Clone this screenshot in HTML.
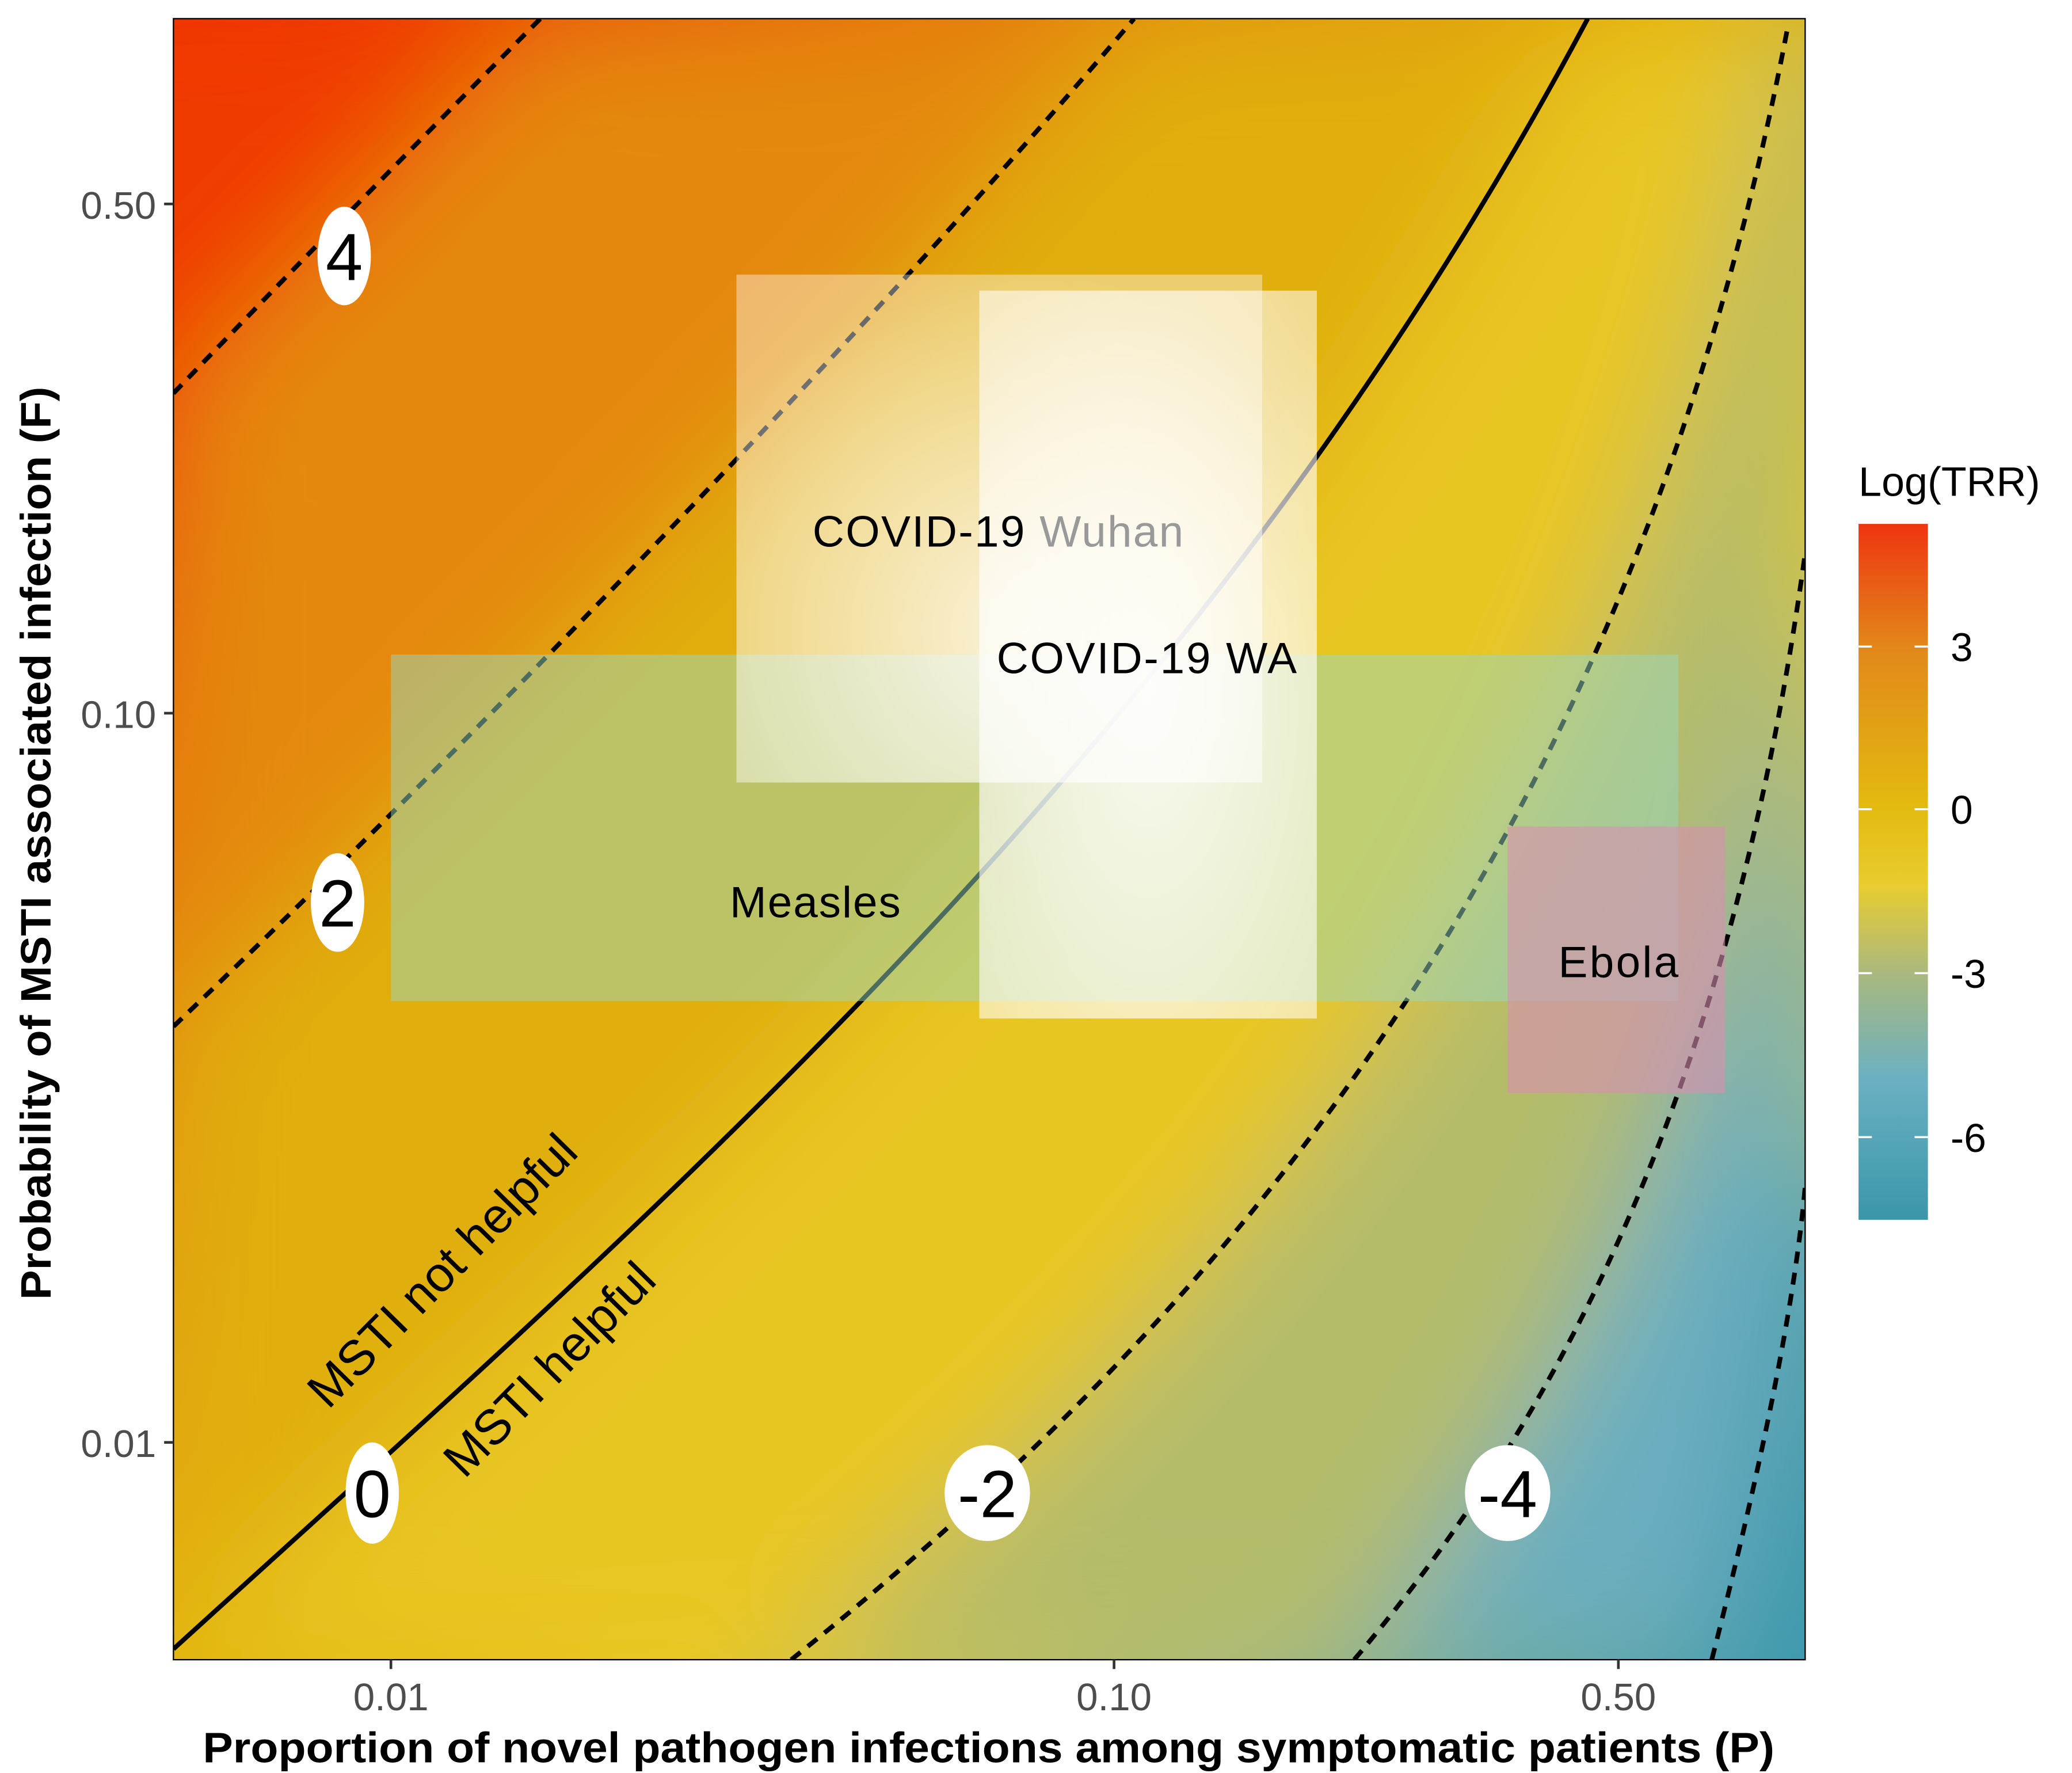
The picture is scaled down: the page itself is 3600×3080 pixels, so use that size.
<!DOCTYPE html>
<html><head><meta charset="utf-8"><style>
html,body{margin:0;padding:0;background:#fff;}
svg{display:block;}
text{font-family:"Liberation Sans",sans-serif;}
</style></head><body>
<svg width="3600" height="3080" viewBox="0 0 1553 1330" preserveAspectRatio="none" xmlns="http://www.w3.org/2000/svg">
<defs>
<clipPath id="pc"><rect x="130" y="14" width="1223" height="1231"/></clipPath>
<filter id="bl" x="-20%" y="-20%" width="140%" height="140%"><feGaussianBlur stdDeviation="45"/></filter>
<linearGradient id="base" x1="0" y1="0" x2="1" y2="1">
<stop offset="0" stop-color="#f02a00"/><stop offset="0.3" stop-color="#e38a05"/><stop offset="0.5" stop-color="#e2b30a"/><stop offset="0.65" stop-color="#e8c828"/><stop offset="0.82" stop-color="#a8ba80"/><stop offset="1" stop-color="#3a98ae"/>
</linearGradient>
<radialGradient id="wu" cx="0.55" cy="0.7" r="0.7"><stop offset="0" stop-color="#fff" stop-opacity="0.85"/><stop offset="1" stop-color="#fff" stop-opacity="0.4"/></radialGradient>
<radialGradient id="wa" cx="0.5" cy="0.55" r="0.7"><stop offset="0" stop-color="#fff" stop-opacity="0.9"/><stop offset="1" stop-color="#fff" stop-opacity="0.55"/></radialGradient>
<linearGradient id="leg" x1="0" y1="0" x2="0" y2="1">
<stop offset="0" stop-color="#ee3510"/><stop offset="0.18" stop-color="#e2881a"/><stop offset="0.41" stop-color="#e3bb10"/><stop offset="0.52" stop-color="#e8cc30"/><stop offset="0.65" stop-color="#a8b880"/><stop offset="0.8" stop-color="#6ab0c2"/><stop offset="1" stop-color="#3a96aa"/>
</linearGradient>
</defs>
<g clip-path="url(#pc)">
<rect x="130" y="14" width="1223" height="1231" fill="url(#base)"/>
<g filter="url(#bl)">
<path d="M0,0 L500,0 L130,380 L0,420Z" fill="#f03a05"/>
<path d="M405,14 L850,14 C650,250 350,560 130,770 L130,295Z" fill="#e4880a"/>
<path d="M850,14 L1190,14 C900,560 500,900 130,1237 L130,770 C350,560 650,250 850,14Z" fill="#e0ae08"/>
<path d="M1190,14 L1340,14 C1220,650 900,1000 593,1245 L130,1245 L130,1237 C500,900 900,560 1190,14Z" fill="#e8c622"/>
<path d="M1340,14 L1400,0 L1353,415 C1300,800 1180,1050 1015,1245 L593,1245 C900,1000 1220,650 1340,20Z" fill="#b4bc6a"/>
<path d="M1353,415 L1353,890 C1345,980 1320,1100 1283,1245 L1015,1245 C1180,1050 1300,800 1353,415Z" fill="#6aaebf"/>
<path d="M1353,890 L1400,900 L1400,1300 L1283,1245 C1320,1100 1345,980 1353,890Z" fill="#3c98ad"/>
</g>
<g fill="none" stroke="#000" stroke-width="3.5">
<path d="M130,295 Q260,160 405,14" stroke-dasharray="9,7"/>
<path d="M130,770 C350,560 650,250 850,14" stroke-dasharray="9,7"/>
<path d="M130,1237 C500,900 900,560 1190,14"/>
<path d="M593,1245 C900,1000 1220,650 1340,20" stroke-dasharray="9,7"/>
<path d="M1015,1245 C1180,1050 1300,800 1353,415" stroke-dasharray="9,7"/>
<path d="M1283,1245 C1320,1100 1345,980 1353,890" stroke-dasharray="9,7"/>
</g>
<rect x="293" y="491" width="965" height="260" fill="#98d8c0" fill-opacity="0.5"/>
<rect x="552" y="206" width="394" height="381" fill="url(#wu)"/>
<rect x="734" y="218" width="253" height="546" fill="url(#wa)"/>
<rect x="1130" y="620" width="163" height="200" fill="#d890b0" fill-opacity="0.6"/>
<text x="609" y="410" font-size="33" textLength="278" fill="#000">COVID-19 <tspan fill="#999">Wuhan</tspan></text>
<text x="747" y="505" font-size="33" textLength="225" fill="#000">COVID-19 WA</text>
<text x="547" y="688" font-size="33" textLength="128" fill="#000">Measles</text>
<text x="1168" y="733" font-size="33" textLength="90" fill="#000">Ebola</text>
<text x="0" y="0" font-size="37" fill="#000" transform="translate(246,1058) rotate(-45.5)">MSTI not helpful</text>
<text x="0" y="0" font-size="37" fill="#000" transform="translate(348,1110) rotate(-45.5)">MSTI helpful</text>
<g fill="#fff">
<ellipse cx="258" cy="192" rx="20" ry="37"/>
<ellipse cx="253" cy="677" rx="20" ry="37"/>
<ellipse cx="279" cy="1120" rx="20" ry="38"/>
<ellipse cx="740" cy="1120" rx="32" ry="36"/>
<ellipse cx="1130" cy="1120" rx="32" ry="36"/>
</g>
<g font-size="50" fill="#000" text-anchor="middle">
<text x="258" y="210">4</text>
<text x="253" y="695">2</text>
<text x="279" y="1138">0</text>
<text x="740" y="1138">-2</text>
<text x="1130" y="1138">-4</text>
</g>
</g>
<rect x="130" y="14" width="1223" height="1231" fill="none" stroke="#000" stroke-width="1"/>
<g stroke="#333" stroke-width="2">
<line x1="123" y1="153" x2="130" y2="153"/><line x1="123" y1="535" x2="130" y2="535"/><line x1="123" y1="1082" x2="130" y2="1082"/>
<line x1="293" y1="1245" x2="293" y2="1252"/><line x1="835" y1="1245" x2="835" y2="1252"/><line x1="1213" y1="1245" x2="1213" y2="1252"/>
</g>
<g font-size="29" fill="#4d4d4d">
<text x="117" y="164" text-anchor="end">0.50</text>
<text x="117" y="546" text-anchor="end">0.10</text>
<text x="117" y="1093" text-anchor="end">0.01</text>
<text x="293" y="1283" text-anchor="middle">0.01</text>
<text x="835" y="1283" text-anchor="middle">0.10</text>
<text x="1213" y="1283" text-anchor="middle">0.50</text>
</g>
<text x="152" y="1322" font-size="32" font-weight="bold" textLength="1178" lengthAdjust="spacingAndGlyphs">Proportion of novel pathogen infections among symptomatic patients (P)</text>
<text x="0" y="0" font-size="32" font-weight="bold" textLength="685" lengthAdjust="spacingAndGlyphs" transform="translate(38,975) rotate(-90)">Probability of MSTI associated infection (F)</text>
<text x="1393" y="372" font-size="31">Log(TRR)</text>
<rect x="1393" y="393" width="52" height="522" fill="url(#leg)"/>
<g stroke="#fff" stroke-width="1.5">
<line x1="1393" y1="485" x2="1403" y2="485"/><line x1="1435" y1="485" x2="1445" y2="485"/>
<line x1="1393" y1="607" x2="1403" y2="607"/><line x1="1435" y1="607" x2="1445" y2="607"/>
<line x1="1393" y1="730" x2="1403" y2="730"/><line x1="1435" y1="730" x2="1445" y2="730"/>
<line x1="1393" y1="853" x2="1403" y2="853"/><line x1="1435" y1="853" x2="1445" y2="853"/>
</g>
<g font-size="30" fill="#000">
<text x="1462" y="496">3</text>
<text x="1462" y="618">0</text>
<text x="1462" y="741">-3</text>
<text x="1462" y="864">-6</text>
</g>
</svg>
</body></html>
